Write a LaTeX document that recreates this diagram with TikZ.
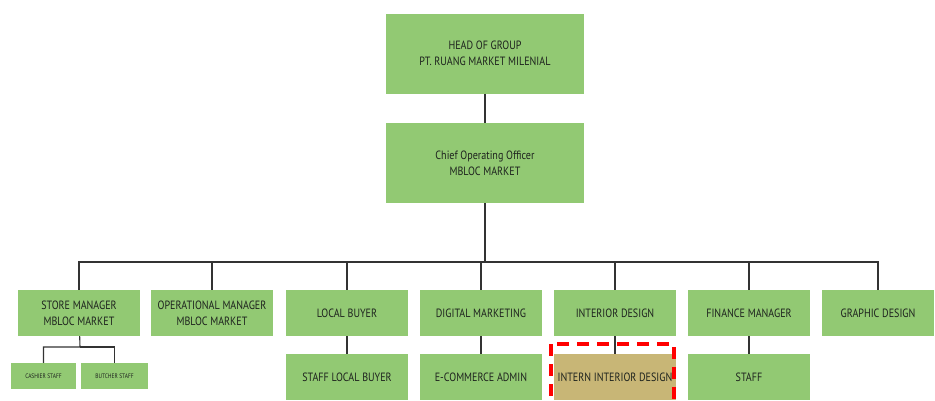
\documentclass[tikz,border=0pt]{standalone}
\usepackage{fontspec}
\setmainfont{PT Sans}[FakeStretch=0.84]
\definecolor{boxgreen}{RGB}{146,201,115}
\definecolor{interntan}{RGB}{200,182,118}
\definecolor{inktext}{RGB}{30,35,30}
\begin{document}
\begin{tikzpicture}[x=1pt,y=-1pt,
  box/.style={rectangle, fill=boxgreen, text=inktext, align=center, inner sep=0pt,
    minimum width=122pt, minimum height=46pt, font=\fontsize{12}{16}\selectfont},
  bigbox/.style={box, minimum width=198pt, minimum height=80pt},
  tinybox/.style={box, minimum height=26pt, font=\fontsize{6.5}{8}\selectfont},
  link/.style={draw=black!80, line width=1.1pt}]
\clip (0,0) rectangle (935,400);
\fill[white] (0,0) rectangle (935,400);
% top of the chart
\node[bigbox] (head) at (485,53.5) {HEAD OF GROUP\\PT. RUANG MARKET MILENIAL};
\node[bigbox] (coo) at (485,163) {Chief Operating Officer\\MBLOC MARKET};
\draw[link](head) -- (coo);
% first row
\node[box] (store) at (79,313) {STORE MANAGER\\MBLOC MARKET};
\node[box] (oper) at (212,313) {OPERATIONAL MANAGER\\MBLOC MARKET};
\node[box] (lbuyer) at (347,313) {LOCAL BUYER};
\node[box] (digital) at (481,313) {DIGITAL MARKETING};
\node[box] (interior) at (615,313) {INTERIOR DESIGN};
\node[box] (finance) at (749,313) {FINANCE MANAGER};
\node[box, minimum width=112pt] (graphic) at (878,313) {GRAPHIC DESIGN};
\coordinate (bus) at (485,262);
\foreach \n in {store,oper,lbuyer,digital,interior,finance,graphic}
  \draw[link](coo) -- (bus) -| (\n.north);
% second row
\node[box] (slbuyer) at (347,377) {STAFF LOCAL BUYER};
\node[box] (ecom) at (481,377) {E-COMMERCE ADMIN};
\node[box, fill=interntan] (intern) at (615,377) {INTERN INTERIOR DESIGN};
\node[box] (staff) at (749,377) {STAFF};
\draw[link](lbuyer) -- (slbuyer);
\draw[link](digital) -- (ecom);
\draw[link](interior) -- (intern);
\draw[link](finance) -- (staff);
% store staff
\node[tinybox, minimum width=65pt] (cashier) at (43.5,376) {CASHIER STAFF};
\node[tinybox, minimum width=67pt] (butcher) at (114.5,376) {BUTCHER STAFF};
\coordinate (sbus) at (80,347);
\draw[link](store) -- (sbus) -| (cashier.north);
\draw[link](sbus) -| (butcher.north);
% highlight
\draw[red, line width=3.5pt, dash pattern=on 12pt off 8pt] (551,344) rectangle (674,420);
\end{tikzpicture}
\end{document}
